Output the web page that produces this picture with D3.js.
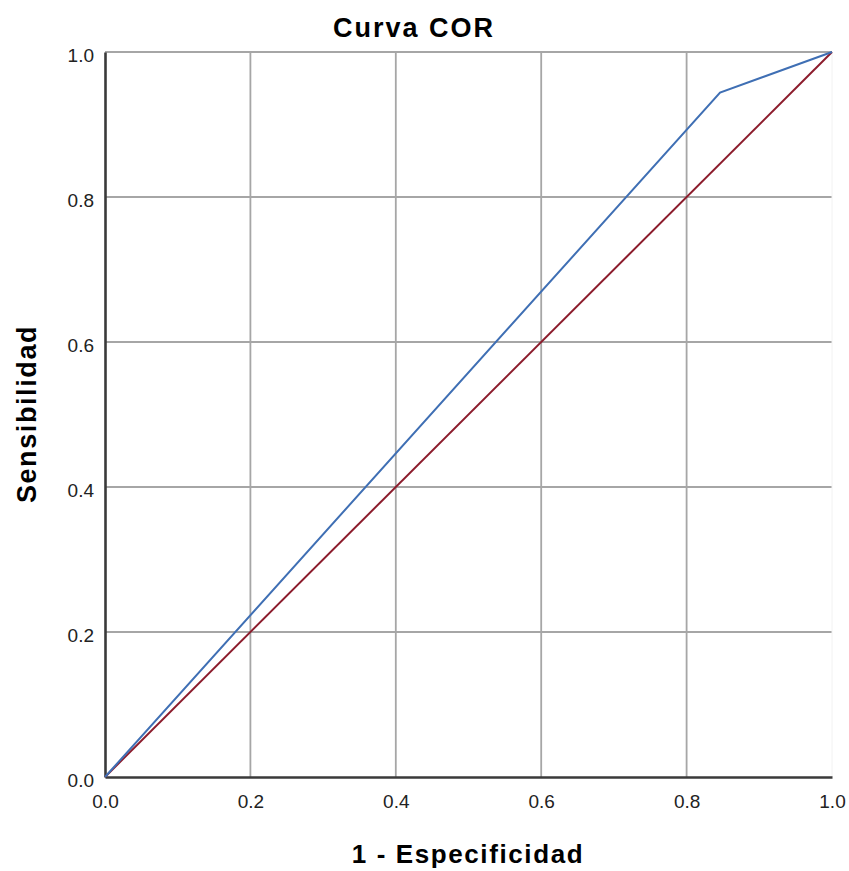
<!DOCTYPE html>
<html>
<head>
<meta charset="utf-8">
<script src="https://cdn.jsdelivr.net/npm/d3@7"></script>
<style>
  body { margin: 0; background: #fff; }
  text { font-family: "Liberation Sans", Arial, sans-serif; }
</style>
</head>
<body>
<svg id="chart" width="849" height="871"></svg>
<script>
// ROC curve points (1 - especificidad, sensibilidad)
const rocX = [0, 0.846, 1];
const rocY = [0, 0.944, 1];
// reference diagonal
const refX = [0, 1];
const refY = [0, 1];
const tickValues = [0, 0.2, 0.4, 0.6, 0.8, 1.0];

const margin = {left: 105, top: 52, right: 17, bottom: 94};
const width = 849 - margin.left - margin.right;
const height = 871 - margin.top - margin.bottom;

let svg = d3.select('#chart');
let g = svg.append('g').attr('transform', `translate(${margin.left},${margin.top})`);

let x = d3.scaleLinear().domain([0, 1]).range([0, width]);
let y = d3.scaleLinear().domain([0, 1]).range([height, 0]);

// grid
g.append('g').selectAll('line')
  .data(tickValues.filter(d => d > 0 && d < 1))
  .join('line')
  .attr('x1', d => x(d)).attr('x2', d => x(d))
  .attr('y1', 0).attr('y2', height)
  .style('stroke', '#a6a6a6').style('stroke-width', 1.8);
g.append('g').selectAll('line')
  .data(tickValues.filter(d => d > 0))
  .join('line')
  .attr('x1', 0).attr('x2', width)
  .attr('y1', d => y(d)).attr('y2', d => y(d))
  .style('stroke', '#a6a6a6').style('stroke-width', 1.8);
g.append('line')
  .attr('x1', x(1)).attr('x2', x(1)).attr('y1', 0).attr('y2', height)
  .style('stroke', '#f2f2f2').style('stroke-width', 1);

// axes
let xAxis = d3.axisBottom(x).tickValues(tickValues).tickFormat(d3.format('.1f')).tickSize(0).tickPadding(18);
let yAxis = d3.axisLeft(y).tickValues(tickValues).tickFormat(d3.format('.1f')).tickSize(0).tickPadding(11);
let gx = g.append('g').attr('transform', `translate(0,${height})`).call(xAxis);
let gy = g.append('g').call(yAxis);
[gx, gy].forEach(a => {
  a.select('.domain').style('stroke', '#3a3a3a').style('stroke-width', 2.6);
  a.selectAll('text').style('font-size', '19px').style('fill', '#222')
    .style('font-family', '"Liberation Sans", Arial, sans-serif');
});
gy.selectAll('text').attr('dy', '0.48em');

// lines
let lineFn = d3.line().x(d => x(d[0])).y(d => y(d[1]));
g.append('path')
  .attr('d', lineFn(refX.map((v, i) => [v, refY[i]])))
  .style('fill', 'none').style('stroke', '#8c1c2c').style('stroke-width', 2);
g.append('path')
  .attr('d', lineFn(rocX.map((v, i) => [v, rocY[i]])))
  .style('fill', 'none').style('stroke', '#3f6fb4').style('stroke-width', 2);

// titles
svg.append('text').attr('x', 414).attr('y', 37).attr('text-anchor', 'middle')
  .style('font-size', '27px').style('font-weight', 'bold').style('letter-spacing', '2px').text('Curva COR');
svg.append('text').attr('x', 468).attr('y', 863).attr('text-anchor', 'middle')
  .style('font-size', '26px').style('font-weight', 'bold').style('letter-spacing', '1.6px').text('1 - Especificidad');
svg.append('text').attr('transform', 'translate(36,414) rotate(-90)').attr('text-anchor', 'middle')
  .style('font-size', '27px').style('font-weight', 'bold').style('letter-spacing', '1.6px').text('Sensibilidad');
</script>
</body>
</html>
